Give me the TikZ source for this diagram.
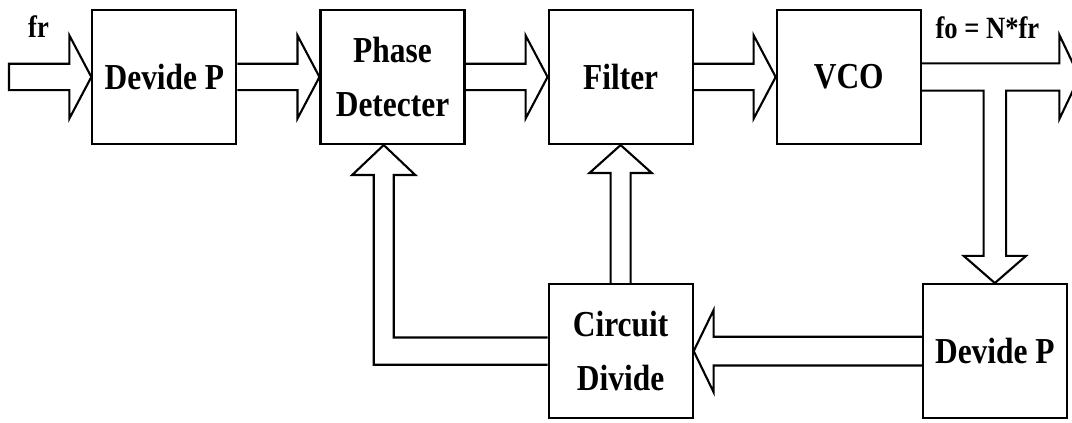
\documentclass[tikz,border=0pt]{standalone}
\usepackage{fontspec}
\newfontfamily\blockfont[FakeStretch=0.86]{Liberation Serif}
\usetikzlibrary{calc, positioning}

\begin{document}
\begin{tikzpicture}[
  line width=1.5pt,
  block/.style={draw, minimum width=3.6cm, minimum height=3.35cm, align=center,
    font=\blockfont\bfseries\fontsize{26}{38}\selectfont},
  lbl/.style={font=\blockfont\bfseries\fontsize{22}{26}\selectfont},
  pipe/.style n args={3}{to path={
    let \p1=($(\tikztotarget)!#3!(\tikztostart)$) in
    ($(\tikztostart)!#1!90:(\tikztotarget)$) -- ($(\p1)!#1!90:(\tikztotarget)$)
    -- ($(\p1)!#2!90:(\tikztotarget)$) -- (\tikztotarget)
    -- ($(\p1)!#2!-90:(\tikztotarget)$) -- ($(\p1)!#1!-90:(\tikztotarget)$)
    -- ($(\tikztostart)!#1!-90:(\tikztotarget)$)}},
  arr/.style={pipe={0.33cm}{1.04cm}{0.55cm}}
]
\useasboundingbox (0,0) rectangle (26.8,10.575);

\node[block] (dvA) at (4.11,8.65) {Devide P};
\node[block, right=2.05cm of dvA] (pd) {Phase\\Detecter};
\node[block, right=2.05cm of pd] (flt) {Filter};
\node[block, right=2.05cm of flt] (vco) {VCO};
\node[block, below=3.45cm of flt] (cd) {Circuit\\Divide};
\node[block, below right=3.45cm and 0cm of vco.south east] (dvB) {Devide P};

\coordinate (fin) at ($(dvA.west)+(-2.06,0)$);
\coordinate (out) at ($(vco.east)+(3.94,0)$);
\coordinate (tee) at (dvB.north |- vco.east);
\coordinate (pdin) at ($(pd.south)+(-0.22,0)$);
\coordinate (crn) at (pdin |- cd.west);

% forward chain
\draw (fin) to[arr] (dvA.west) -- cycle;
\draw (dvA.east) to[arr] (pd.west);
\draw (pd.east) to[arr] (flt.west);
\draw (flt.east) to[arr] (vco.west);

% output, with the branch down to the second divider
\draw ($(vco.east)+(0,0.34)$) -- ($(out)+(-0.5,0.34)$) -- ($(out)+(-0.5,1.05)$) -- (out)
  -- ($(out)+(-0.5,-1.05)$) -- ($(out)+(-0.5,-0.34)$) -- ($(tee)+(0.28,-0.34)$)
  -- ($(dvB.north)+(0.28,0.68)$) -- ($(dvB.north)+(0.78,0.68)$) -- (dvB.north)
  -- ($(dvB.north)+(-0.78,0.68)$) -- ($(dvB.north)+(-0.28,0.68)$) -- ($(tee)+(-0.28,-0.34)$)
  -- ($(vco.east)+(0,-0.34)$);

% feedback
\draw (dvB.west) to[pipe={0.36cm}{1.03cm}{0.5cm}] (cd.east);
\draw (cd.north) to[pipe={0.25cm}{0.78cm}{0.7cm}] (flt.south);
\draw ($(cd.west)+(0,0.34)$) -- ($(crn)+(0.25,0.34)$) -- ($(pdin)+(0.25,-0.75)$)
  -- ($(pdin)+(0.79,-0.75)$) -- (pdin) -- ($(pdin)+(-0.79,-0.75)$)
  -- ($(pdin)+(-0.25,-0.75)$) -- ($(crn)+(-0.25,-0.34)$) -- ($(cd.west)+(0,-0.34)$);

\node[lbl] (frlbl) at ($(fin)+(0.74,1.25)$) {fr};
\node[lbl] (folbl) at ($(out)+(-2.3,1.22)$) {fo = N*fr};
\end{tikzpicture}
\end{document}
